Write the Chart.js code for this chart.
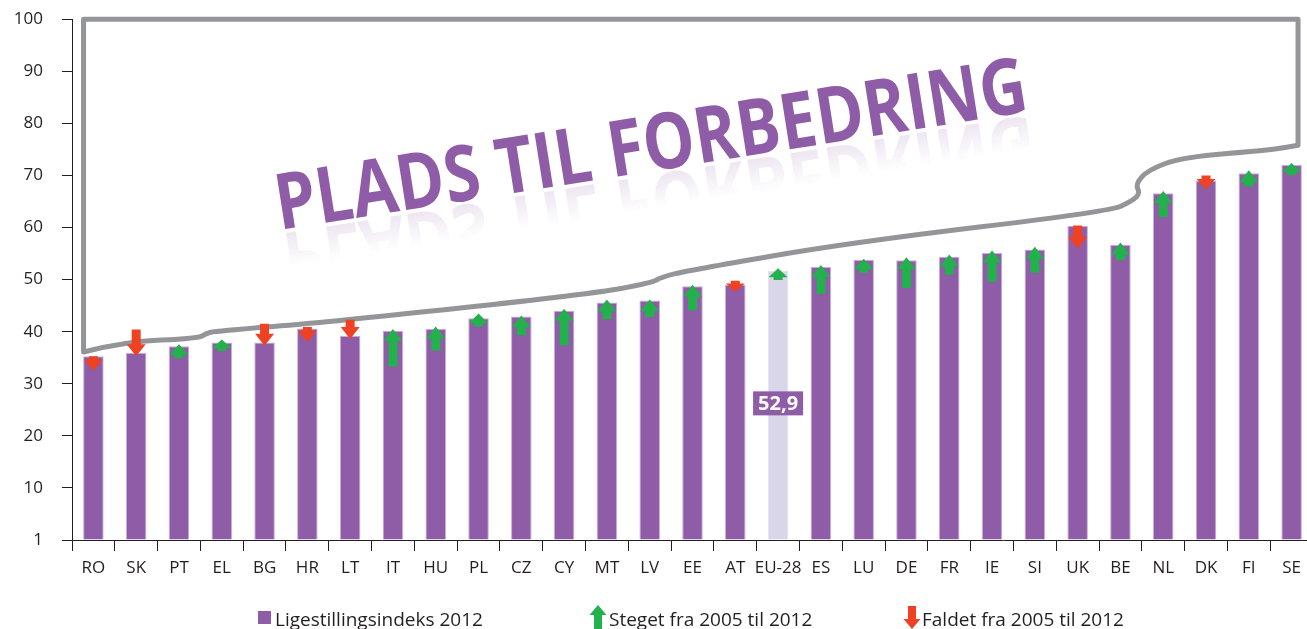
<!DOCTYPE html>
<html>
<head>
<meta charset="utf-8">
<script src="https://cdn.jsdelivr.net/npm/chart.js@4.4.1/dist/chart.umd.min.js"></script>
<style>
  html, body { margin: 0; padding: 0; background: #fff; overflow: hidden; }
  #wrap { width: 1320px; height: 639px; position: relative; margin-top: -10px; }
</style>
</head>
<body>
<div id="wrap"><canvas id="indexChart"></canvas></div>
<script>
const countries = ['RO', 'SK', 'PT', 'EL', 'BG', 'HR', 'LT', 'IT', 'HU', 'PL', 'CZ', 'CY', 'MT', 'LV', 'EE',
  'AT', 'EU-28', 'ES', 'LU', 'DE', 'FR', 'IE', 'SI', 'UK', 'BE', 'NL', 'DK', 'FI', 'SE'];
const index2012 = [35.3, 35.9, 37.2, 37.9, 37.9, 40.6, 39.2, 40.2, 40.5, 42.6, 42.9, 44.0, 45.6, 46.0, 48.7,
  49.0, 51.7, 52.4, 53.8, 53.7, 54.4, 55.1, 55.8, 60.3, 56.7, 66.6, 69.0, 70.4, 72.0];
// arrows: tail and tip (2005 -> 2012 change)
const changeFrom = [35.3, 40.4, 34.9, 36.3, 41.5, 40.9, 42.3, 33.3, 36.4, 41.0, 39.3, 37.4, 42.4, 42.8, 44.1,
  49.8, 49.9, 47.3, 51.3, 48.4, 51.0, 49.6, 51.3, 60.4, 53.7, 62.0, 70.0, 67.9, 70.1];
const changeTo = [32.5, 35.3, 37.6, 38.5, 37.3, 38.0, 38.6, 40.5, 41.0, 43.5, 43.1, 44.4, 46.2, 46.2, 49.0,
  47.6, 52.2, 52.8, 54.0, 54.3, 54.8, 55.6, 56.3, 55.9, 57.1, 67.0, 67.3, 71.0, 72.4];
const euAverage = 52.9;
const yTickValues = [0, 10, 20, 30, 40, 50, 60, 70, 80, 90, 100];
// "room for improvement" outline, [category index, value]
const roomOutline = [
  [-0.23, 36.1], [0.72, 38.1], [2.45, 38.7], [2.64, 39.7], [2.85, 40.1], [5.56, 41.9], [11.59, 47.2],
  [13.06, 49.4], [13.27, 50.5], [13.93, 51.8], [17.66, 57.1], [23.74, 63.1], [24.28, 65.1], [24.46, 66.6],
  [24.35, 68.3], [24.63, 71.0], [25.44, 73.5], [27.55, 74.9], [28.15, 75.8]
];
const roomTitle = 'PLADS TIL FORBEDRING';
const legendLabels = ['Ligestillingsindeks 2012', 'Steget fra 2005 til 2012', 'Faldet fra 2005 til 2012'];

const PURPLE = '#8F5CA7';
const GREEN = '#22B14C';
const RED = '#EF4123';
const INK = '#231F20';
const FONT = '"Open Sans", "Noto Sans", sans-serif';
const SHIFT = 10; // canvas is pulled up by this much

function drawArrow(ctx, x, yTail, yTip, color, shaft, head, headLen) {
  const dir = yTip < yTail ? -1 : 1;
  const hl = Math.min(headLen, Math.abs(yTip - yTail) * 0.75);
  const yBase = yTip - dir * hl;
  ctx.fillStyle = color;
  ctx.beginPath();
  ctx.moveTo(x - shaft / 2, yTail);
  ctx.lineTo(x - shaft / 2, yBase);
  ctx.lineTo(x - head / 2, yBase);
  ctx.lineTo(x, yTip);
  ctx.lineTo(x + head / 2, yBase);
  ctx.lineTo(x + shaft / 2, yBase);
  ctx.lineTo(x + shaft / 2, yTail);
  ctx.closePath();
  ctx.fill();
}

const decorPlugin = {
  id: 'decor',
  beforeDatasetsDraw(chart) {
    const { ctx, scales: { x, y } } = chart;
    // outline of the "room"
    const pts = roomOutline.map(p => [x.getPixelForValue(p[0]), y.getPixelForValue(p[1])]);
    const topY = y.getPixelForValue(100);
    ctx.save();
    ctx.strokeStyle = '#939598';
    ctx.lineWidth = 5;
    ctx.lineJoin = 'round';
    ctx.beginPath();
    ctx.moveTo(pts[pts.length - 1][0], topY);
    ctx.lineTo(pts[0][0], topY);
    ctx.lineTo(pts[0][0], pts[0][1]);
    for (let i = 1; i < pts.length - 1; i++) {
      const mx = (pts[i][0] + pts[i + 1][0]) / 2;
      const my = (pts[i][1] + pts[i + 1][1]) / 2;
      ctx.quadraticCurveTo(pts[i][0], pts[i][1], mx, my);
    }
    ctx.lineTo(pts[pts.length - 1][0], pts[pts.length - 1][1]);
    ctx.closePath();
    ctx.stroke();

    // slanted title with faint reflection
    const ax = x.getPixelForValue(4.35);
    const ay = y.getPixelForValue(59.5);
    ctx.translate(ax, ay);
    ctx.rotate(-9 * Math.PI / 180);
    ctx.font = 'bold 78px ' + FONT;
    const w = ctx.measureText(roomTitle).width;
    ctx.scale(760 / w, 1);
    ctx.textBaseline = 'alphabetic';
    ctx.fillStyle = PURPLE;
    ctx.fillText(roomTitle, 0, 0);
    ctx.scale(1, -1);
    const g = ctx.createLinearGradient(0, -2, 0, -38);
    g.addColorStop(0, 'rgba(143,92,167,0.16)');
    g.addColorStop(1, 'rgba(143,92,167,0)');
    ctx.fillStyle = g;
    ctx.fillText(roomTitle, 0, -4);
    ctx.restore();
  },
  afterDatasetsDraw(chart) {
    const { ctx, scales: { x, y } } = chart;
    ctx.save();
    changeFrom.forEach((v, i) => {
      const px = x.getPixelForValue(i);
      const up = changeTo[i] > v;
      drawArrow(ctx, px, y.getPixelForValue(v), y.getPixelForValue(changeTo[i]), up ? GREEN : RED, 9, 19, 12);
    });
    // EU-28 value box
    const ei = countries.indexOf('EU-28');
    const ex = x.getPixelForValue(ei);
    const ey = y.getPixelForValue(index2012[ei] / 2) - 2;
    const txt = euAverage.toFixed(1).replace('.', ',');
    ctx.font = 'bold 20px ' + FONT;
    const tw = ctx.measureText(txt).width;
    ctx.fillStyle = PURPLE;
    ctx.fillRect(ex - tw / 2 - 5, ey - 12, tw + 10, 24);
    ctx.fillStyle = '#fff';
    ctx.textAlign = 'center';
    ctx.textBaseline = 'middle';
    ctx.fillText(txt, ex, ey + 1);
    ctx.restore();
  },
  afterDraw(chart) {
    const { ctx } = chart;
    ctx.save();
    ctx.translate(0, SHIFT);
    ctx.font = '19px ' + FONT;
    ctx.textBaseline = 'alphabetic';
    ctx.fillStyle = PURPLE;
    ctx.fillRect(258, 611, 13, 13);
    drawArrow(ctx, 598, 632, 605, GREEN, 8, 17, 10);
    drawArrow(ctx, 912, 606, 629, RED, 8, 17, 10);
    ctx.fillStyle = INK;
    const items = [[275, legendLabels[0]], [609, legendLabels[1]], [922, legendLabels[2]]];
    items.forEach(([lx, t]) => {
      const tw = ctx.measureText(t).width;
      ctx.save();
      ctx.translate(lx, 626);
      ctx.scale(Math.min(1, 218 / tw), 1);
      ctx.fillText(t, 0, 0);
      ctx.restore();
    });
    ctx.restore();
  }
};

new Chart(document.getElementById('indexChart'), {
  type: 'bar',
  data: {
    labels: countries,
    datasets: [{
      data: index2012,
      backgroundColor: c => countries[c.dataIndex] === 'EU-28' ? '#D9D6EA' : PURPLE,
      borderColor: c => countries[c.dataIndex] === 'EU-28' ? '#E4E1F0' : '#C7AED6',
      borderWidth: 1,
      barPercentage: 0.48,
      categoryPercentage: 1
    }]
  },
  options: {
    responsive: true,
    maintainAspectRatio: false,
    animation: false,
    layout: { padding: { top: 0, right: 7, bottom: 0, left: 0 } },
    plugins: { legend: { display: false }, tooltip: { enabled: false } },
    scales: {
      x: {
        grid: { offset: true, drawOnChartArea: false, drawTicks: true, tickLength: 11, color: INK },
        border: { color: INK, width: 1 },
        ticks: { color: INK, font: { size: 17, family: FONT }, padding: 7, maxRotation: 0, autoSkip: false },
        afterFit: s => { s.height = 89; }
      },
      y: {
        min: 0,
        max: 100,
        afterBuildTicks: s => { s.ticks = yTickValues.map(v => ({ value: v })); },
        grid: { drawOnChartArea: false, drawTicks: true, tickLength: 10, color: INK },
        border: { color: INK, width: 1 },
        ticks: {
          color: INK, font: { size: 17, family: FONT }, padding: 19,
          callback: v => v === 0 ? '1' : v
        },
        afterFit: s => { s.width = 72; }
      }
    }
  },
  plugins: [decorPlugin]
});
</script>
</body>
</html>
